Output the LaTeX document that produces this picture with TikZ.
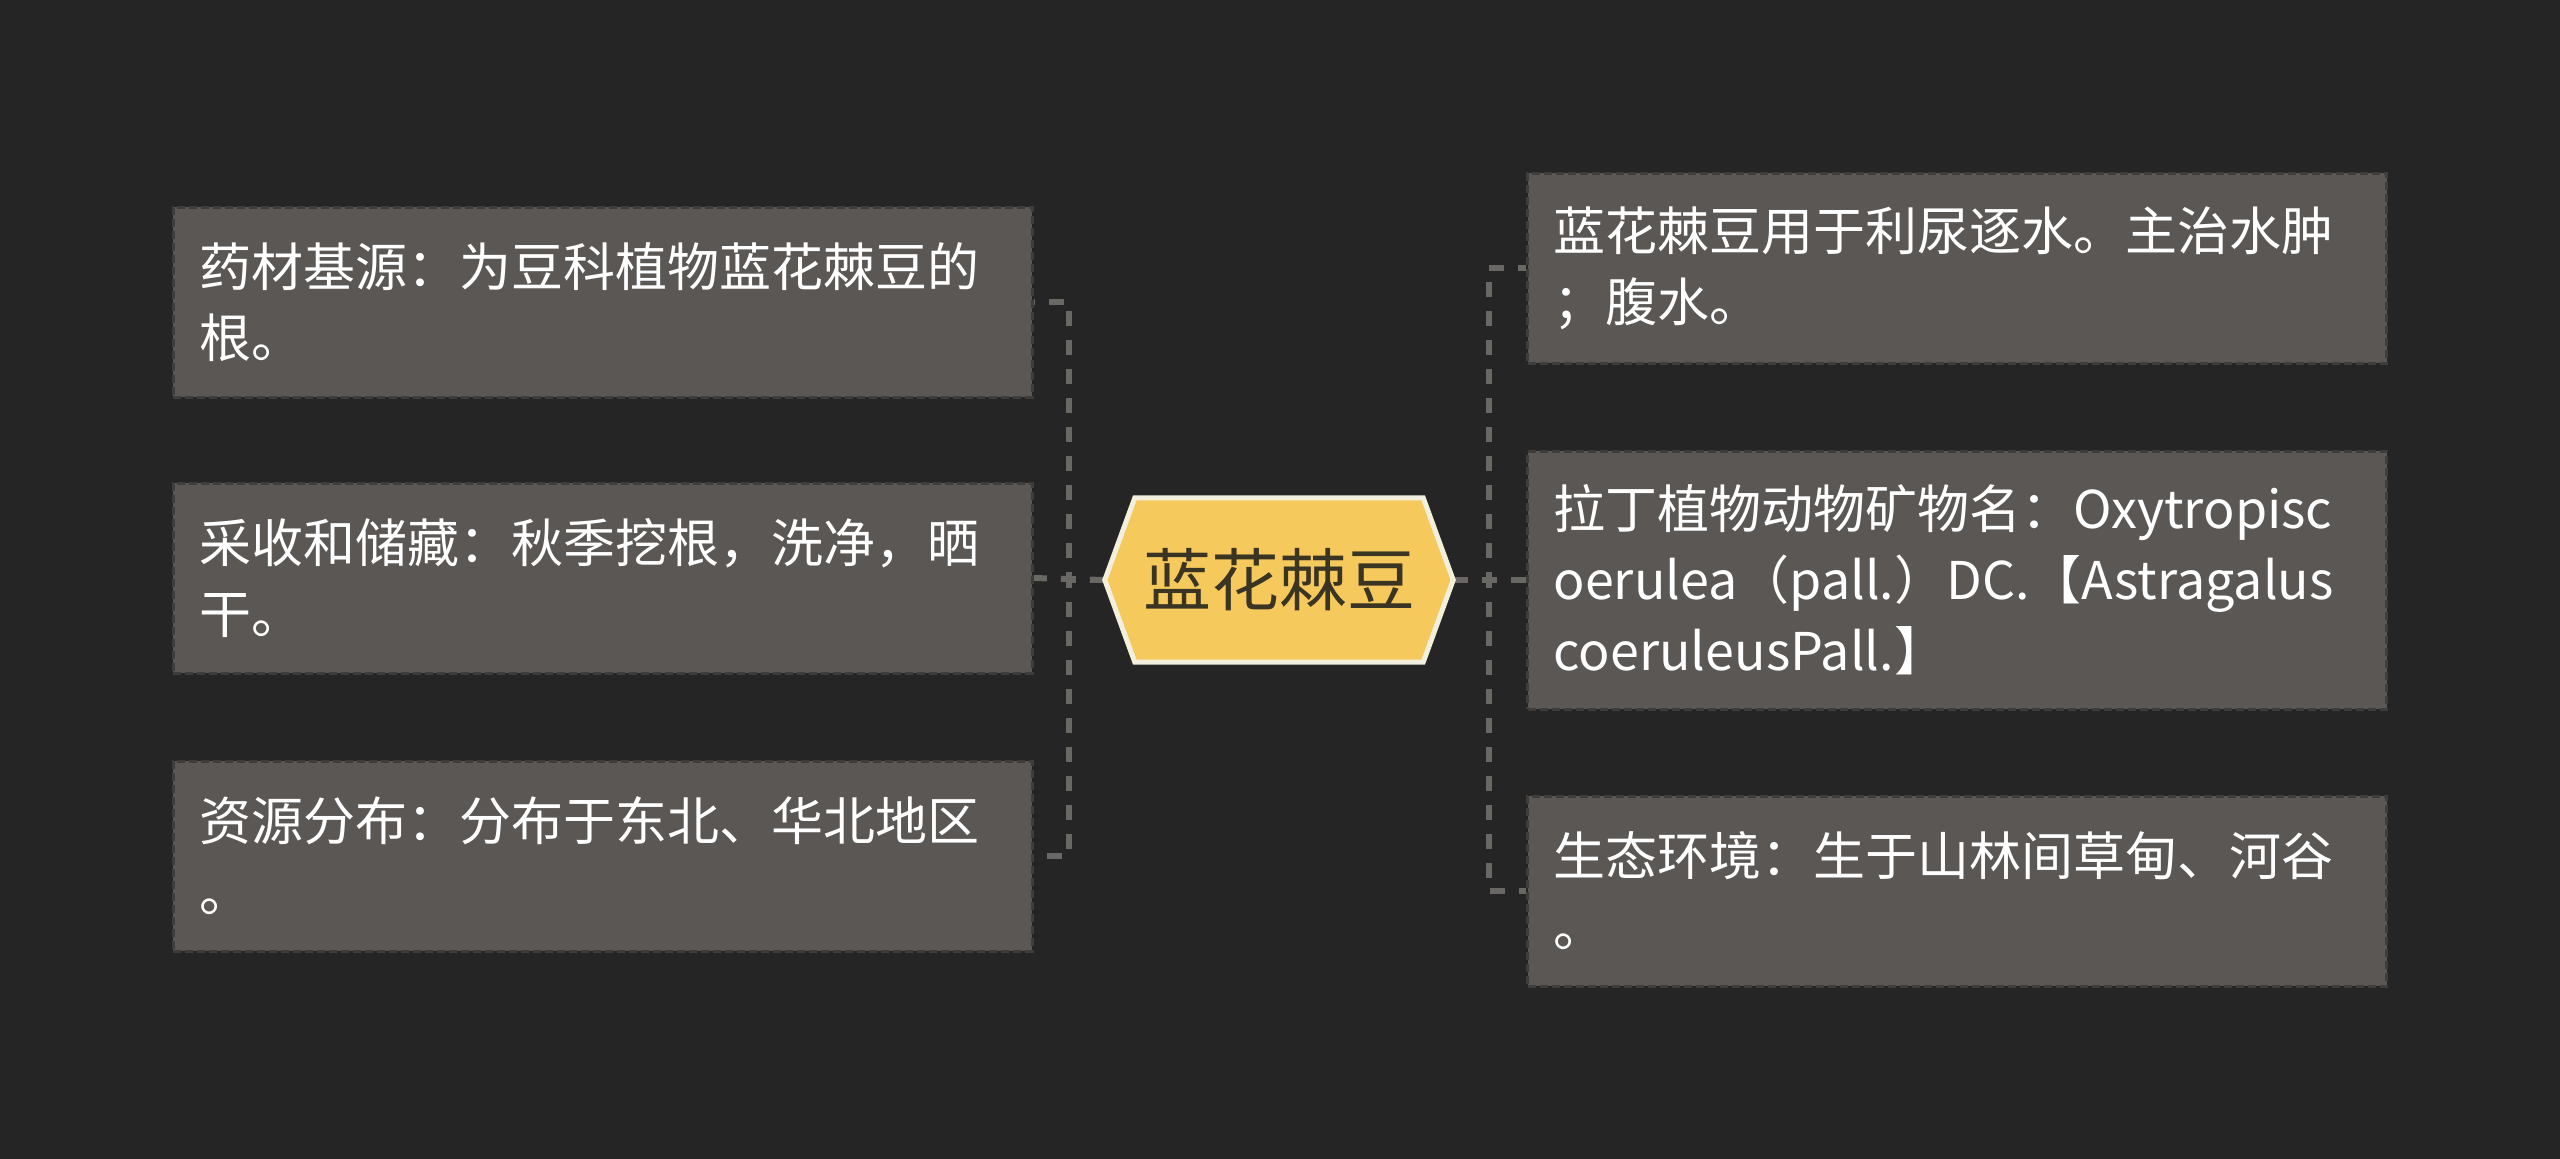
\documentclass[tikz,border=0pt]{standalone}
\usepackage{fontspec}
\setmainfont{Noto Sans CJK SC}
\usetikzlibrary{backgrounds}
\definecolor{bgc}{HTML}{252525}
\definecolor{boxfill}{HTML}{5A5754}
\definecolor{boxline}{HTML}{3F3D3B}
\definecolor{connc}{HTML}{6A6865}
\definecolor{hexfill}{HTML}{F5C95C}
\definecolor{hexline}{HTML}{F2F0DC}
\definecolor{hextext}{HTML}{3A3423}
\begin{document}
\begin{tikzpicture}[x=1pt,y=-1pt,
  leaf/.style={fill=boxfill, draw=boxline, line width=3pt, dash pattern=on 8pt off 4pt,
    text=white, minimum width=859pt, minimum height=190pt, text width=807pt,
    inner xsep=26pt, inner ysep=0pt, align=left, font=\fontsize{52}{71}\selectfont},
  hexnode/.style={minimum width=348pt, minimum height=164pt, inner sep=0pt,
    text=hextext, font=\fontsize{68}{80}\selectfont},
  connector/.style={draw=connc, line width=6pt, dash pattern=on 15pt off 14pt}
]
\useasboundingbox (0,0) rectangle (2560,1159);

% center
\node[hexnode] (c) at (1279,580) {蓝花棘豆};

% left leaves
\node[leaf] (l1) at (602.5,302) {药材基源：为豆科植物蓝花棘豆的\\根。};
\node[leaf] (l2) at (602.5,578) {采收和储藏：秋季挖根，洗净，晒\\干。};
\node[leaf] (l3) at (602.5,856) {资源分布：分布于东北、华北地区\\。};

% right leaves
\node[leaf] (r1) at (1957,268) {蓝花棘豆用于利尿逐水。主治水肿\\；腹水。};
\node[leaf, minimum height=258pt] (r2) at (1957,580) {拉丁植物动物矿物名：Oxytropisc\\oerulea（pall.）DC.【Astragalus\\coeruleusPall.】};
\node[leaf] (r3) at (1957,891) {生态环境：生于山林间草甸、河谷\\。};

\begin{scope}[on background layer]
  \fill[bgc] (0,0) rectangle (2560,1159);
  \draw[connector] (c.west) -- ++(-36,0) |- (l1.east);
  \draw[connector] (c.west) -- (l2.east);
  \draw[connector] (c.west) -- ++(-36,0) |- (l3.east);
  \draw[connector] (c.east) -- ++(36,0) |- (r1.west);
  \draw[connector] (c.east) -- (r2.west);
  \draw[connector] (c.east) -- ++(36,0) |- (r3.west);
  \draw[fill=hexfill, draw=hexline, line width=5pt, line join=miter]
    (c.west) -- ([xshift=30pt]c.north west) -- ([xshift=-30pt]c.north east)
    -- (c.east) -- ([xshift=-30pt]c.south east) -- ([xshift=30pt]c.south west) -- cycle;
\end{scope}
\end{tikzpicture}
\end{document}
